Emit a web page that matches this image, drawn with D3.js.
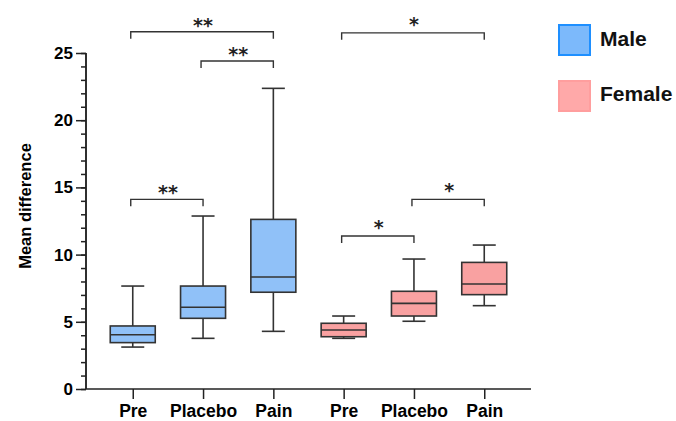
<!DOCTYPE html>
<html><head><meta charset="utf-8">
<script src="https://cdn.jsdelivr.net/npm/d3@7"></script>
<style>body{margin:0;background:#fff}svg{display:block}</style>
</head><body>
<script>
const categories = ["Pre","Placebo","Pain","Pre","Placebo","Pain"];
const groups = ["Male","Male","Male","Female","Female","Female"];
const minVals = [3.12, 3.77, 4.29, 3.77, 5.04, 6.20];
const q1Vals  = [3.45, 5.26, 7.20, 3.89, 5.43, 7.02];
const medVals = [4.04, 6.08, 8.33, 4.39, 6.37, 7.81];
const q3Vals  = [4.69, 7.66, 12.62, 4.89, 7.27, 9.42];
const maxVals = [7.66, 12.87, 22.37, 5.43, 9.67, 10.71];
const yTicks = [0,5,10,15,20,25];
// significance brackets: from index, to index, level (y units), label
const bracketFrom = [0,1,0,3,3,4];
const bracketTo   = [2,2,1,5,4,5];
const bracketLevel= [26.58,24.4,14.11,26.5,11.38,14.11];
const bracketLabel= ["**","**","**","*","*","*"];
const legendLabels = ["Male","Female"];

const W=676,H=421;
const fillColor = {Male:"#90c1f8", Female:"#f9a1a1"};
const svg=d3.select("body").append("svg").attr("width",W).attr("height",H);
const font="'Liberation Sans', Arial, sans-serif";
const idx=d3.range(categories.length);
const x=d3.scalePoint().domain(idx).range([86,531]).padding(0.665);
const y=d3.scaleLinear().domain([0,25]).range([389,53]);
const ink="#222";

// y axis minor
const gyMinor=svg.append("g").attr("transform","translate(86,0)")
  .call(d3.axisLeft(y).tickValues(d3.range(0,26,1)).tickSize(5).tickFormat(""));
const gy=svg.append("g").attr("transform","translate(86,0)")
  .call(d3.axisLeft(y).tickValues(yTicks).tickSize(10).tickPadding(3).tickFormat(d3.format("d")));
[gyMinor,gy].forEach(g=>{g.selectAll("path,line").attr("stroke",ink).attr("stroke-width",1.5);});
gy.selectAll("text").attr("font-family",font).attr("font-weight","bold").attr("font-size",17).attr("fill","#000");
gyMinor.select(".domain").attr("d","M0,53V389");
gy.select(".domain").attr("d","M0,53V389");

// x axis
const gx=svg.append("g").attr("transform","translate(0,389)")
  .call(d3.axisBottom(x).tickSize(10).tickFormat(i=>categories[i]));
gx.select(".domain").attr("d","M86,0H531");
gx.selectAll("path,line").attr("stroke",ink).attr("stroke-width",1.5);
gx.selectAll("text").attr("font-family",font).attr("font-weight","bold").attr("font-size",17.5)
  .attr("fill","#000").attr("y",28).attr("dy",null);

// y title
svg.append("text").attr("transform","translate(31,206) rotate(-90)").attr("text-anchor","middle")
  .attr("font-family",font).attr("font-weight","bold").attr("font-size",16.5).text("Mean difference");

// boxes
const bw=45, cw=23;
const box=svg.append("g").selectAll("g").data(idx).join("g");
box.append("line").attr("x1",i=>x(i)).attr("x2",i=>x(i)).attr("y1",i=>y(maxVals[i])).attr("y2",i=>y(q3Vals[i]));
box.append("line").attr("x1",i=>x(i)).attr("x2",i=>x(i)).attr("y1",i=>y(q1Vals[i])).attr("y2",i=>y(minVals[i]));
box.append("line").attr("x1",i=>x(i)-cw/2).attr("x2",i=>x(i)+cw/2).attr("y1",i=>y(maxVals[i])).attr("y2",i=>y(maxVals[i]));
box.append("line").attr("x1",i=>x(i)-cw/2).attr("x2",i=>x(i)+cw/2).attr("y1",i=>y(minVals[i])).attr("y2",i=>y(minVals[i]));
box.append("rect").attr("x",i=>x(i)-bw/2).attr("width",bw).attr("y",i=>y(q3Vals[i]))
  .attr("height",i=>y(q1Vals[i])-y(q3Vals[i])).attr("fill",i=>fillColor[groups[i]]);
box.append("line").attr("x1",i=>x(i)-bw/2).attr("x2",i=>x(i)+bw/2).attr("y1",i=>y(medVals[i])).attr("y2",i=>y(medVals[i]));
box.selectAll("line,rect").attr("stroke","#333").attr("stroke-width",1.6);

// brackets
const bIdx=d3.range(bracketFrom.length);
const br=svg.append("g").selectAll("g").data(bIdx).join("g");
br.append("path").attr("fill","none").attr("stroke","#333").attr("stroke-width",1.4)
  .attr("d",k=>{const x0=x(bracketFrom[k])-2,x1=x(bracketTo[k]),yy=y(bracketLevel[k]);
    return `M${x0},${yy+7}V${yy}H${x1}V${yy+7}`;});
br.append("text").attr("x",k=>(x(bracketFrom[k])+x(bracketTo[k]))/2)
  .attr("y",k=>y(bracketLevel[k])-(bracketLabel[k].length===1?2:0))
  .attr("text-anchor","middle").attr("font-family","'DejaVu Sans', sans-serif").attr("font-weight","bold")
  .attr("font-size",19).attr("fill","#222").text(k=>bracketLabel[k]);

// legend
const lg=svg.append("g");
const legFill=["#7cb9fb","#ffa9a9"], legStroke=["#1e8fff","#ff9e9e"];
legendLabels.forEach((l,i)=>{
  lg.append("rect").attr("x",559).attr("y",25+i*56).attr("width",31).attr("height",30)
    .attr("fill",legFill[i]).attr("stroke",legStroke[i]).attr("stroke-width",2);
  lg.append("text").attr("x",600).attr("y",46+i*55).attr("font-family",font).attr("font-weight","bold")
    .attr("font-size",21).attr("fill","#111").text(l);
});
</script>
</body></html>
